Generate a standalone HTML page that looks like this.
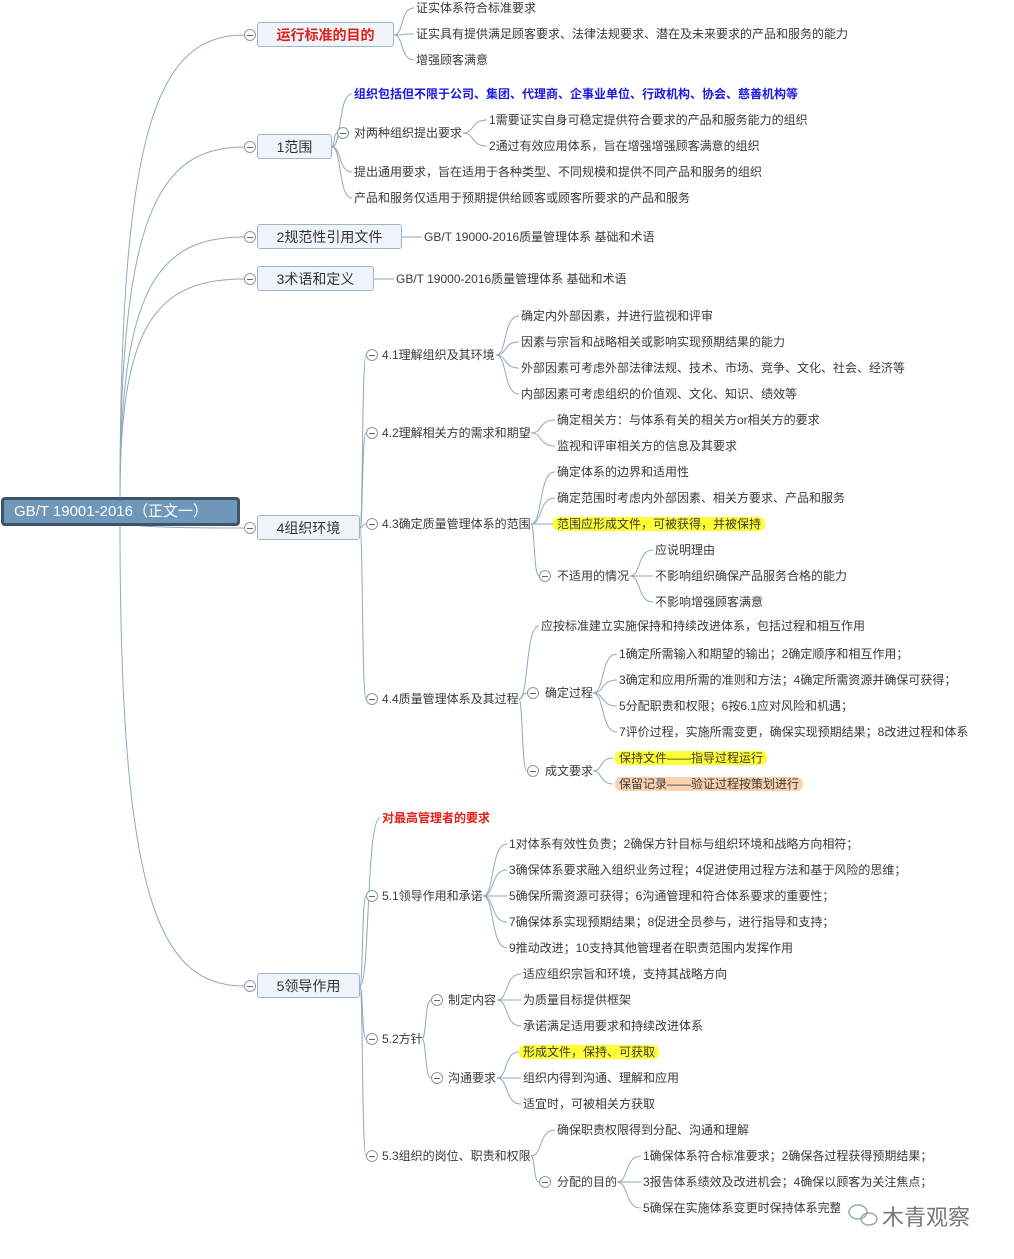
<!DOCTYPE html>
<html><head><meta charset="utf-8"><style>
body{margin:0;width:1014px;height:1259px;background:#fff;position:relative;overflow:hidden;font-family:"Liberation Sans","Noto Sans CJK SC",sans-serif;color:#3a3a3a}
.t{position:absolute;font-size:12px;line-height:16px;white-space:nowrap;transform:translateY(-8px)}
.b{position:absolute;height:25px;line-height:25px;background:#eef4fa;border:1px solid #9fb4c8;border-radius:3px;font-size:14px;text-align:center;color:#333;box-sizing:border-box}
.c{position:absolute;width:12px;height:12px;border:1px solid #8a9aa8;border-radius:50%;background:#fff;box-sizing:border-box;transform:translate(-6px,-6px)}
.c:after{content:"";position:absolute;left:2px;right:2px;top:5px;height:1px;background:#666}
.hy{background:#ffff33;border-radius:6px;padding:0 4px;margin-left:-4px}
.hp{background:#fbd3b0;border-radius:6px;padding:0 4px;margin-left:-4px}
svg{position:absolute;left:0;top:0}
</style></head><body>
<svg width="1014" height="1259" id="s"></svg>
<div style="position:absolute;left:1px;top:497px;width:239px;height:29px;background:#6e97ba;border:3px solid #3f5468;border-radius:4px;box-sizing:border-box;color:#fff;font-size:15px;line-height:23px;padding-left:10px">GB/T 19001-2016（正文一）</div>

<div class="b" style="left:257px;top:22px;width:137px;color:#e0201a;font-weight:bold">运行标准的目的</div>
<div class="b" style="left:257px;top:134px;width:75px">1范围</div>
<div class="b" style="left:257px;top:224px;width:145px">2规范性引用文件</div>
<div class="b" style="left:257px;top:266px;width:117px">3术语和定义</div>
<div class="b" style="left:257px;top:515px;width:103px">4组织环境</div>
<div class="b" style="left:257px;top:973px;width:103px">5领导作用</div>

<div class="c" style="left:250px;top:35px"></div>
<div class="c" style="left:250px;top:147px"></div>
<div class="c" style="left:250px;top:237px"></div>
<div class="c" style="left:250px;top:279px"></div>
<div class="c" style="left:250px;top:528px"></div>
<div class="c" style="left:250px;top:986px"></div>
<div class="c" style="left:343px;top:133px"></div>
<div class="c" style="left:372px;top:355px"></div>
<div class="c" style="left:372px;top:433px"></div>
<div class="c" style="left:372px;top:524px"></div>
<div class="c" style="left:372px;top:699px"></div>
<div class="c" style="left:545px;top:576px"></div>
<div class="c" style="left:533px;top:693px"></div>
<div class="c" style="left:533px;top:771px"></div>
<div class="c" style="left:372px;top:896px"></div>
<div class="c" style="left:372px;top:1039px"></div>
<div class="c" style="left:437px;top:1000px"></div>
<div class="c" style="left:437px;top:1078px"></div>
<div class="c" style="left:372px;top:1156px"></div>
<div class="c" style="left:545px;top:1182px"></div>

<div class="t" style="left:416px;top:8px">证实体系符合标准要求</div>
<div class="t" style="left:416px;top:34px">证实具有提供满足顾客要求、法律法规要求、潜在及未来要求的产品和服务的能力</div>
<div class="t" style="left:416px;top:60px">增强顾客满意</div>
<div class="t" style="left:354px;top:94px;color:#1a1ae0;font-weight:bold">组织包括但不限于公司、集团、代理商、企事业单位、行政机构、协会、慈善机构等</div>
<div class="t" style="left:354px;top:133px">对两种组织提出要求</div>
<div class="t" style="left:489px;top:120px">1需要证实自身可稳定提供符合要求的产品和服务能力的组织</div>
<div class="t" style="left:489px;top:146px">2通过有效应用体系，旨在增强增强顾客满意的组织</div>
<div class="t" style="left:354px;top:172px">提出通用要求，旨在适用于各种类型、不同规模和提供不同产品和服务的组织</div>
<div class="t" style="left:354px;top:198px">产品和服务仅适用于预期提供给顾客或顾客所要求的产品和服务</div>
<div class="t" style="left:424px;top:237px">GB/T 19000-2016质量管理体系 基础和术语</div>
<div class="t" style="left:396px;top:279px">GB/T 19000-2016质量管理体系 基础和术语</div>

<div class="t" style="left:382px;top:355px">4.1理解组织及其环境</div>
<div class="t" style="left:521px;top:316px">确定内外部因素，并进行监视和评审</div>
<div class="t" style="left:521px;top:342px">因素与宗旨和战略相关或影响实现预期结果的能力</div>
<div class="t" style="left:521px;top:368px">外部因素可考虑外部法律法规、技术、市场、竞争、文化、社会、经济等</div>
<div class="t" style="left:521px;top:394px">内部因素可考虑组织的价值观、文化、知识、绩效等</div>
<div class="t" style="left:382px;top:433px">4.2理解相关方的需求和期望</div>
<div class="t" style="left:557px;top:420px">确定相关方：与体系有关的相关方or相关方的要求</div>
<div class="t" style="left:557px;top:446px">监视和评审相关方的信息及其要求</div>
<div class="t" style="left:382px;top:524px">4.3确定质量管理体系的范围</div>
<div class="t" style="left:557px;top:472px">确定体系的边界和适用性</div>
<div class="t" style="left:557px;top:498px">确定范围时考虑内外部因素、相关方要求、产品和服务</div>
<div class="t" style="left:557px;top:524px"><span class="hy">范围应形成文件，可被获得，并被保持</span></div>
<div class="t" style="left:557px;top:576px">不适用的情况</div>
<div class="t" style="left:655px;top:550px">应说明理由</div>
<div class="t" style="left:655px;top:576px">不影响组织确保产品服务合格的能力</div>
<div class="t" style="left:655px;top:602px">不影响增强顾客满意</div>
<div class="t" style="left:382px;top:699px">4.4质量管理体系及其过程</div>
<div class="t" style="left:541px;top:626px">应按标准建立实施保持和持续改进体系，包括过程和相互作用</div>
<div class="t" style="left:545px;top:693px">确定过程</div>
<div class="t" style="left:619px;top:654px">1确定所需输入和期望的输出；2确定顺序和相互作用；</div>
<div class="t" style="left:619px;top:680px">3确定和应用所需的准则和方法；4确定所需资源并确保可获得；</div>
<div class="t" style="left:619px;top:706px">5分配职责和权限；6按6.1应对风险和机遇；</div>
<div class="t" style="left:619px;top:732px">7评价过程，实施所需变更，确保实现预期结果；8改进过程和体系</div>
<div class="t" style="left:545px;top:771px">成文要求</div>
<div class="t" style="left:619px;top:758px"><span class="hy">保持文件——指导过程运行</span></div>
<div class="t" style="left:619px;top:784px"><span class="hp">保留记录——验证过程按策划进行</span></div>

<div class="t" style="left:382px;top:818px;color:#e0201a;font-weight:bold">对最高管理者的要求</div>
<div class="t" style="left:382px;top:896px">5.1领导作用和承诺</div>
<div class="t" style="left:509px;top:844px">1对体系有效性负责；2确保方针目标与组织环境和战略方向相符；</div>
<div class="t" style="left:509px;top:870px">3确保体系要求融入组织业务过程；4促进使用过程方法和基于风险的思维；</div>
<div class="t" style="left:509px;top:896px">5确保所需资源可获得；6沟通管理和符合体系要求的重要性；</div>
<div class="t" style="left:509px;top:922px">7确保体系实现预期结果；8促进全员参与，进行指导和支持；</div>
<div class="t" style="left:509px;top:948px">9推动改进；10支持其他管理者在职责范围内发挥作用</div>
<div class="t" style="left:382px;top:1039px">5.2方针</div>
<div class="t" style="left:448px;top:1000px">制定内容</div>
<div class="t" style="left:523px;top:974px">适应组织宗旨和环境，支持其战略方向</div>
<div class="t" style="left:523px;top:1000px">为质量目标提供框架</div>
<div class="t" style="left:523px;top:1026px">承诺满足适用要求和持续改进体系</div>
<div class="t" style="left:448px;top:1078px">沟通要求</div>
<div class="t" style="left:523px;top:1052px"><span class="hy">形成文件，保持、可获取</span></div>
<div class="t" style="left:523px;top:1078px">组织内得到沟通、理解和应用</div>
<div class="t" style="left:523px;top:1104px">适宜时，可被相关方获取</div>
<div class="t" style="left:382px;top:1156px">5.3组织的岗位、职责和权限</div>
<div class="t" style="left:557px;top:1130px">确保职责权限得到分配、沟通和理解</div>
<div class="t" style="left:557px;top:1182px">分配的目的</div>
<div class="t" style="left:643px;top:1156px">1确保体系符合标准要求；2确保各过程获得预期结果；</div>
<div class="t" style="left:643px;top:1182px">3报告体系绩效及改进机会；4确保以顾客为关注焦点；</div>
<div class="t" style="left:643px;top:1208px">5确保在实施体系变更时保持体系完整</div>

<div style="position:absolute;left:840px;top:1198px;width:170px;height:36px;background:rgba(255,255,255,.85)"></div>
<svg width="1014" height="1259" style="pointer-events:none"><g fill="none" stroke="#9aa" stroke-width="1.5"><ellipse cx="858" cy="1212" rx="9" ry="7"/><ellipse cx="869" cy="1219" rx="8" ry="6"/></g></svg>
<div style="position:absolute;left:882px;top:1200px;font-size:22px;color:#777;font-family:'Liberation Sans','Noto Sans CJK SC',sans-serif">木青观察</div>

<script>
var L=[
// root
[120,497,244,35,1],[120,497,244,147,1],[120,497,244,237,1],[120,497,244,279,1],[120,520,244,528,1],[120,525,244,986,1],
[394,35,414,8],[394,35,414,34],[394,35,414,60],
[332,147,352,94],[332,147,337,133],[332,147,352,172],[332,147,352,198],
[463,133,487,120],[463,133,487,146],
[402,237,422,237],[374,279,394,279],
[360,528,366,355],[360,528,366,433],[360,528,366,524],[360,528,366,699],
[496,355,519,316],[496,355,519,342],[496,355,519,368],[496,355,519,394],
[531,433,555,420],[531,433,555,446],
[531,524,555,472],[531,524,555,498],[531,524,553,524],[531,524,539,576],
[630,576,653,550],[630,576,653,576],[630,576,653,602],
[519,699,539,626],[519,699,527,693],[519,699,527,771],
[593,693,617,654],[593,693,617,680],[593,693,617,706],[593,693,617,732],
[593,771,613,758],[593,771,613,784],
[360,986,380,818],[360,986,366,896],[360,986,366,1039],[360,986,366,1156],
[483,896,507,844],[483,896,507,870],[483,896,507,896],[483,896,507,922],[483,896,507,948],
[422,1039,431,1000],[422,1039,431,1078],
[497,1000,521,974],[497,1000,521,1000],[497,1000,521,1026],
[497,1078,519,1052],[497,1078,521,1078],[497,1078,521,1104],
[531,1156,555,1130],[531,1156,539,1182],
[617,1182,641,1156],[617,1182,641,1182],[617,1182,641,1208]
];
var s=document.getElementById('s'),h='';
L.forEach(function(a){var x1=a[0],y1=a[1],x2=a[2],y2=a[3],d;
if(a[4]){d='M'+x1+' '+y1+' C'+x1+' '+(y1+(y2-y1)*0.8)+' '+(x1+(x2-x1)*0.3)+' '+y2+' '+x2+' '+y2;}
else{var dx=x2-x1;d='M'+x1+' '+y1+' C'+(x1+dx*0.5)+' '+y1+' '+(x1+dx*0.3)+' '+y2+' '+x2+' '+y2;}
h+='<path d="'+d+'" fill="none" stroke="#8fa8bf" stroke-width="1"/>';});
s.innerHTML=h;
</script>
</body></html>
